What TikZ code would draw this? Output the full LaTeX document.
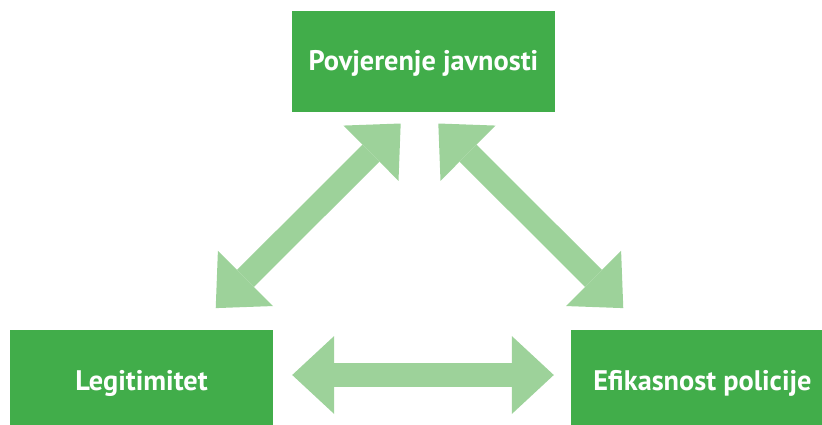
\documentclass[tikz,border=0pt]{standalone}
\usepackage{fontspec}
\setmainfont{PT Sans}
\usetikzlibrary{positioning,arrows.meta,calc}
\definecolor{boxgreen}{HTML}{41AD4A}
\definecolor{arrowgreen}{HTML}{9DD29A}

\begin{document}
\begin{tikzpicture}[x=1pt,y=-1pt,
  box/.style={fill=boxgreen, text=white, minimum width=263pt, minimum height=101pt,
    inner sep=0pt, text height=19pt, text depth=0pt,
    font=\bfseries\fontsize{28.3}{32}\selectfont},
  link/.style={draw=arrowgreen, line width=24pt,
    >={Triangle[length=42pt,width=78pt,line width=0pt]}, <->}]
\useasboundingbox (0,0) rectangle (822,425);
\clip (0,0) rectangle (822,425);
\node[box] (trust) at (423.5,61.5) {Povjerenje javnosti};
\node[box] (legit) at (141.5,380.5) {Legitimitet};
\node[box] (effic) at (702.5,380.5) {Efikasnost policije};
\draw[link, shorten <=30.7pt, shorten >=16pt] ([xshift=52.5pt]legit.north) -- ([xshift=-11.5pt]trust.south);
\draw[link, shorten <=16pt, shorten >=30.7pt] ([xshift=3.5pt]trust.south) -- ([xshift=-57.5pt]effic.north);
\draw[link, shorten <=19pt, shorten >=17pt] ([yshift=5.5pt]legit.east) -- ([yshift=5.5pt]effic.west);
\end{tikzpicture}
\end{document}
